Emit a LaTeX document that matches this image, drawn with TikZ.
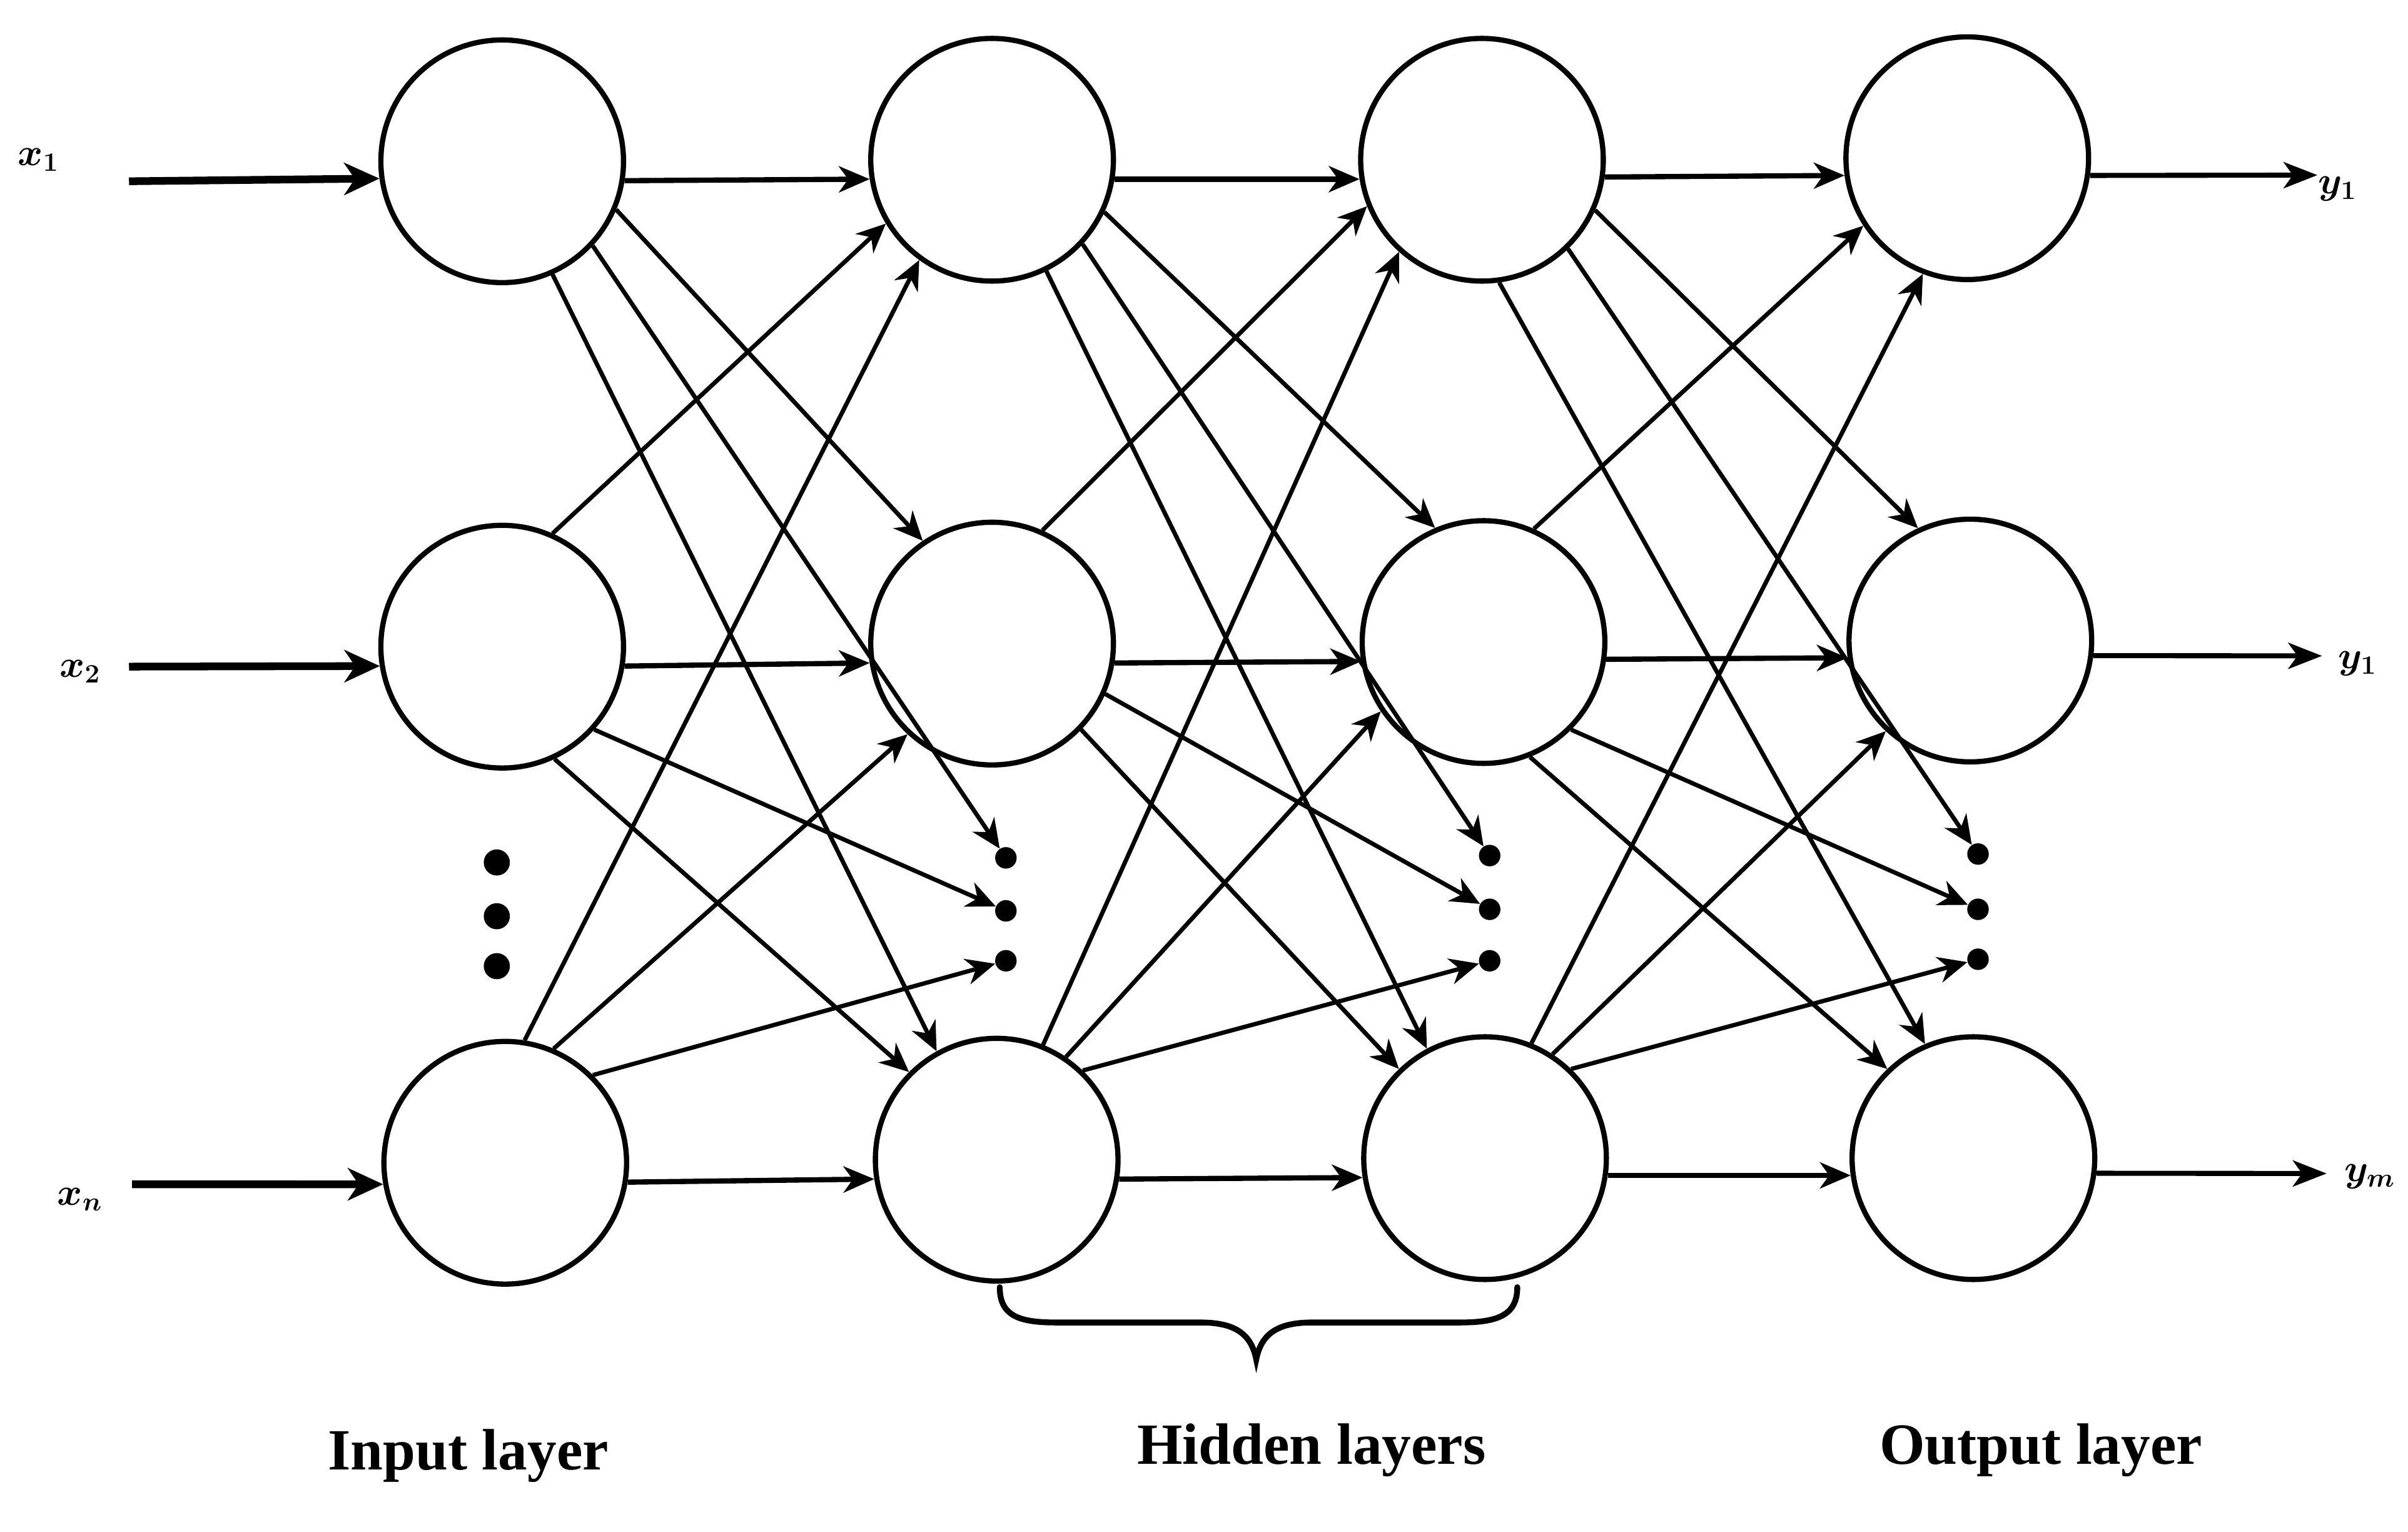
\documentclass[tikz,border=0pt]{standalone}
\usepackage{fontspec}
\setmainfont{Liberation Serif}
\usepackage{amsmath}
\usetikzlibrary{arrows.meta}
\begin{document}
\begin{tikzpicture}[x=1pt,y=-1pt,
  neuron/.style={circle,draw,line width=3.4pt,minimum size=158pt,inner sep=0pt},
  dotc/.style={circle,fill,inner sep=0pt,minimum size=14pt},
  bigdot/.style={circle,fill,inner sep=0pt,minimum size=17pt},
  link/.style={line width=2.8pt,-{Stealth[length=19pt,width=17pt,inset=6pt]}},
  flow/.style={line width=3.4pt,-{Stealth[length=20pt,width=17pt,inset=6pt]}},
  feed/.style={line width=5pt,-{Stealth[length=23pt,width=21pt,inset=7pt]}},
  emit/.style={line width=3.3pt,-{Stealth[length=22pt,width=17pt,inset=6pt]}},
  var/.style={font=\fontsize{27}{31}\selectfont\boldmath,inner sep=0pt},
  caption/.style={font=\fontsize{38}{45}\selectfont\bfseries,anchor=base,inner sep=0pt}
]
\fill[white] (0,0) rectangle (1568,997);
\useasboundingbox (0,0) rectangle (1568,997);

% neurons, layer by layer
\node[neuron] (I1)  at (327,105) {};
\node[neuron] (I2)  at (327,421) {};
\node[neuron] (I3)  at (329,757) {};
\node[neuron] (H1a) at (646,104) {};
\node[neuron] (H1b) at (646,419) {};
\node[neuron] (H1c) at (649,755) {};
\node[neuron] (H2a) at (965,104) {};
\node[neuron] (H2b) at (966,418) {};
\node[neuron] (H2c) at (967,754) {};
\node[neuron] (O1)  at (1281,103) {};
\node[neuron] (O2)  at (1283,417) {};
\node[neuron] (O3)  at (1285,754) {};

% vertical ellipsis in the input layer
\node[bigdot] (e1) at (323.5,561.5) {};
\node[bigdot] (e2) at (323.5,596.5) {};
\node[bigdot] (e3) at (323.5,629) {};

% ellipsis dots standing for further units
\node[dotc] (d11) at (655,558.5) {};
\node[dotc] (d12) at (655,593) {};
\node[dotc] (d13) at (655,625.5) {};
\node[dotc] (d21) at (970,557) {};
\node[dotc] (d22) at (970,592) {};
\node[dotc] (d23) at (970,625.5) {};
\node[dotc] (d31) at (1288,556) {};
\node[dotc] (d32) at (1288,592) {};
\node[dotc] (d33) at (1288,624.5) {};

% inputs
\node[var] (x1) at (25,104) {$x_1$};
\node[var] (x2) at (52,437) {$x_2$};
\node[var] (xn) at (52,781) {$x_n$};
\coordinate (s1) at (84,118);
\coordinate (s2) at (84,434);
\coordinate (s3) at (86,771);
\draw[feed] (s1) -- (I1.188);
\draw[feed] (s2) -- (I2.189);
\draw[feed] (s3) -- (I3.190);

% outputs
\coordinate (t1) at (1509,114);
\coordinate (t2) at (1512,427);
\coordinate (t3) at (1515,764);
\node[var] (y1) at (1522,123) {$y_1$};
\node[var] (y2) at (1535,432) {$y_1$};
\node[var] (ym) at (1543,766) {$y_m$};
\draw[emit] (O1.-8) -- (t1);
\draw[emit] (O2.-7) -- (t2);
\draw[emit] (O3.-7) -- (t3);

% input layer -> first hidden layer
\draw[flow] (I1.-9) -- (H1a.189);
\draw[flow] (I2.-9) -- (H1b.189);
\draw[flow] (I3.-9) -- (H1c.189);
\draw[link] (I1.-23) -- (H1b.124);
\draw[link] (I1.-43) -- (d11);
\draw[link] (I1.-66) -- (H1c.119);
\draw[link] (I2.66)  -- (H1a.211);
\draw[link] (I2.-42) -- (d12);
\draw[link] (I2.-65) -- (H1c.135);
\draw[link] (I3.81)  -- (H1a.234);
\draw[link] (I3.67)  -- (H1b.227);
\draw[link] (I3.45)  -- (d13);

% first hidden layer -> second hidden layer
\draw[flow] (H1a.-9) -- (H2a.189);
\draw[flow] (H1b.-9) -- (H2b.189);
\draw[flow] (H1c.-9) -- (H2c.189);
\draw[link] (H1a.-25) -- (H2b.113);
\draw[link] (H1a.-43) -- (d21);
\draw[link] (H1a.-64) -- (H2c.118);
\draw[link] (H1b.66)  -- (H2a.202);
\draw[link] (H1b.-24) -- (d22);
\draw[link] (H1b.-44) -- (H2c.134);
\draw[link] (H1c.68)  -- (H2a.228);
\draw[link] (H1c.56)  -- (H2b.214);
\draw[link] (H1c.46)  -- (d23);

% second hidden layer -> output layer
\draw[flow] (H2a.-8) -- (O1.188);
\draw[flow] (H2b.-8) -- (O2.188);
\draw[flow] (H2c.-8) -- (O3.188);
\draw[link] (H2a.-24) -- (O2.115);
\draw[link] (H2a.-46) -- (d31);
\draw[link] (H2a.-82) -- (O3.113);
\draw[link] (H2b.66)  -- (O1.213);
\draw[link] (H2b.-45) -- (d32);
\draw[link] (H2b.-68) -- (O3.134);
\draw[link] (H2c.68)  -- (O1.249);
\draw[link] (H2c.57)  -- (O2.227);
\draw[link] (H2c.46)  -- (d33);

% brace under the hidden layers
\draw[line width=3.8pt,line cap=round]
  (651,838) .. controls (651,857) and (664,861) .. (688,861)
  -- (782,861) .. controls (806,861) and (815,870) .. (818,885)
  .. controls (821,870) and (830,861) .. (854,861)
  -- (950,861) .. controls (974,861) and (988,857) .. (988,838);

% layer captions
\node[caption] (capIn)  at (305,957) {Input layer};
\node[caption] (capHid) at (854,953) {Hidden layers};
\node[caption] (capOut) at (1329,953) {Output layer};
\end{tikzpicture}
\end{document}
